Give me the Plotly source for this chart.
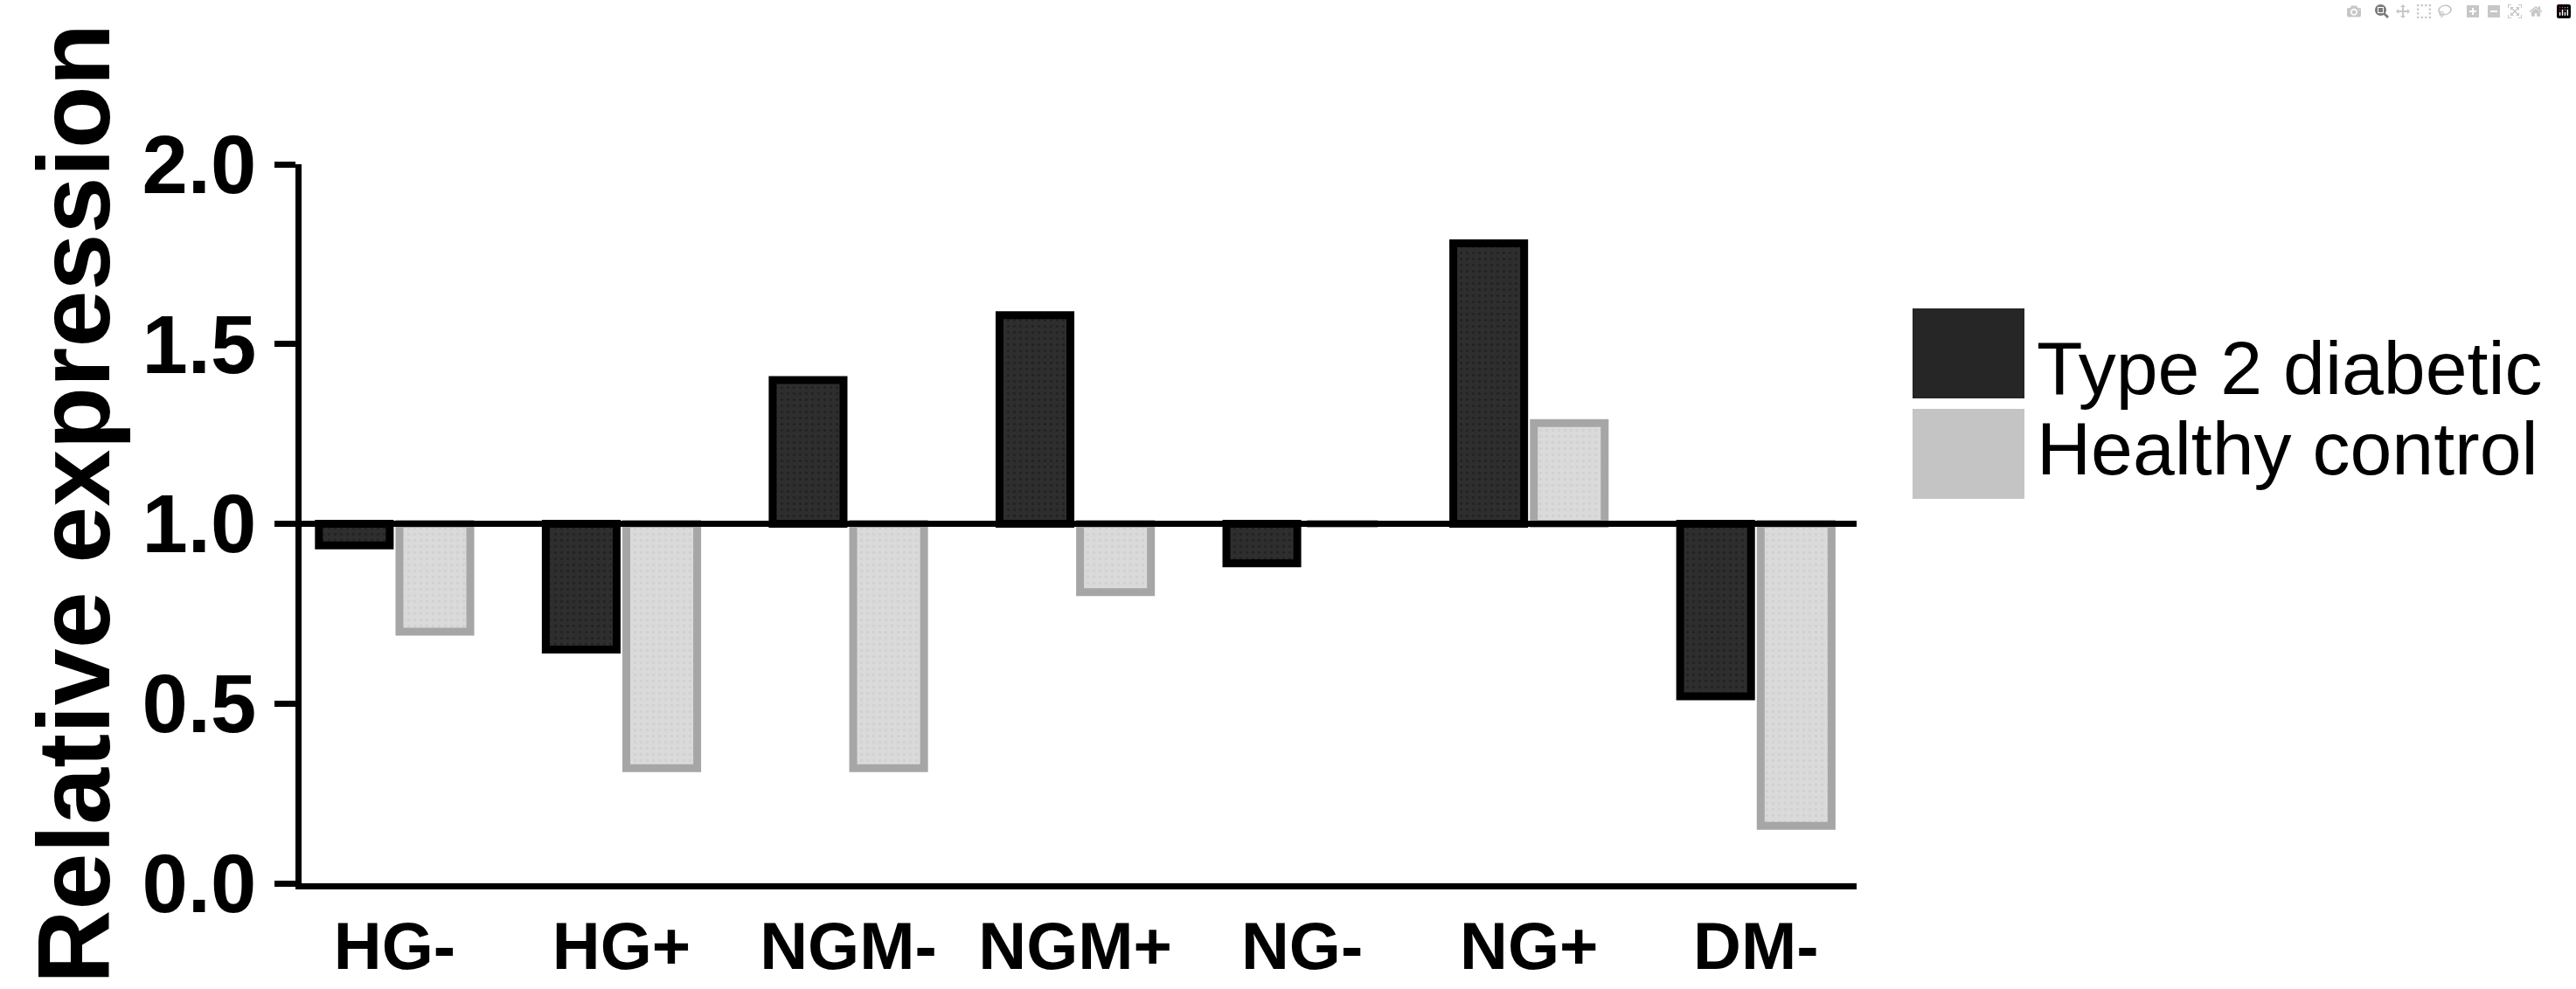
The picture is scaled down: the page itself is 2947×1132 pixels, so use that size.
import plotly.graph_objects as go

# relative expression (baseline = 1.0)
groups = ['HG-', 'HG+', 'NGM-', 'NGM+', 'NG-', 'NG+', 'DM-']
type2_diabetic = [0.94, 0.65, 1.40, 1.58, 0.89, 1.78, 0.52]
healthy_control = [0.70, 0.32, 0.32, 0.81, 1.00, 1.28, 0.16]
series_names = ['Type 2 diabetic', 'Healthy control']
y_ticks = [0.0, 0.5, 1.0, 1.5, 2.0]
BASELINE = 1.0

FONT = 'Liberation Sans, Arial, sans-serif'
W, H = 2947, 1132
ML, MR, MT, MB = 345, 823, 188, 121

fig = go.Figure()

styles = [
    dict(fill='#2e2e2e', edge='#000000', dots='#181818'),
    dict(fill='#dadada', edge='#a6a6a6', dots='#c8c8c8'),
]

for name, vals, st in zip(series_names, [type2_diabetic, healthy_control], styles):
    fig.add_trace(go.Bar(
        x=groups,
        y=[v - BASELINE for v in vals],
        base=BASELINE,
        name=name,
        marker=dict(color=st['fill'], line=dict(color=st['edge'], width=9),
                    pattern=dict(shape='.', size=7, solidity=0.2, fgcolor=st['dots'])),
        showlegend=False,
    ))

# reference line at 1.0
fig.add_hline(y=BASELINE, line=dict(color='black', width=7), layer='above')

fig.update_layout(
    width=W, height=H,
    margin=dict(l=ML, r=MR, t=MT, b=MB, pad=0, autoexpand=False),
    plot_bgcolor='white', paper_bgcolor='white',
    barmode='group', bargap=0.29, bargroupgap=0.12,
    font=dict(family=FONT, color='black'),
    xaxis=dict(
        type='category', range=[-0.41, 6.444], automargin=False,
        showline=True, linecolor='black', linewidth=7,
        ticks='', showgrid=False, zeroline=False,
        ticklabelstandoff=0,
        tickfont=dict(family=FONT, size=76, weight='bold'),
    ),
    yaxis=dict(
        range=[0, 2.0], tickmode='array', tickvals=y_ticks, tickformat='.1f',
        automargin=False,
        ticks='outside', ticklen=24, tickwidth=7, tickcolor='black',
        showline=True, linecolor='black', linewidth=7,
        showgrid=False, zeroline=False, ticklabelstandoff=2,
        tickfont=dict(family=FONT, size=94, weight='bold'),
    ),
)

# y title as annotation so it can sit a bit above centre like the original
plot_w = W - ML - MR
plot_h = H - MT - MB
fig.add_annotation(xref='paper', yref='paper',
                   x=(84 - ML) / plot_w, y=(H - MB - 577) / plot_h,
                   xanchor='center', yanchor='middle', textangle=-90, showarrow=False,
                   text='Relative expression',
                   font=dict(family=FONT, size=117, weight='bold', color='black'))

# legend drawn as boxes + text to match the large keys of the original
legend_fill = ['#262626', '#c4c4c4']
box_x0, box_x1 = (2188 - ML) / plot_w, (2316 - ML) / plot_w
box_rows = [(353, 456), (468, 571)]
text_mid = [416, 508]
for (top, bot), mid, col, name in zip(box_rows, text_mid, legend_fill, series_names):
    fig.add_shape(type='rect', xref='paper', yref='paper',
                  x0=box_x0, x1=box_x1,
                  y0=(H - MB - bot) / plot_h, y1=(H - MB - top) / plot_h,
                  fillcolor=col, line=dict(width=0))
    fig.add_annotation(xref='paper', yref='paper',
                       x=(2328 - ML) / plot_w, y=(H - MB - mid) / plot_h - 0.006,
                       xanchor='left', yanchor='middle', showarrow=False,
                       text=name, font=dict(family=FONT, size=86, color='black'))

fig.write_html("out.html", post_script="document.body.style.margin='0';")
